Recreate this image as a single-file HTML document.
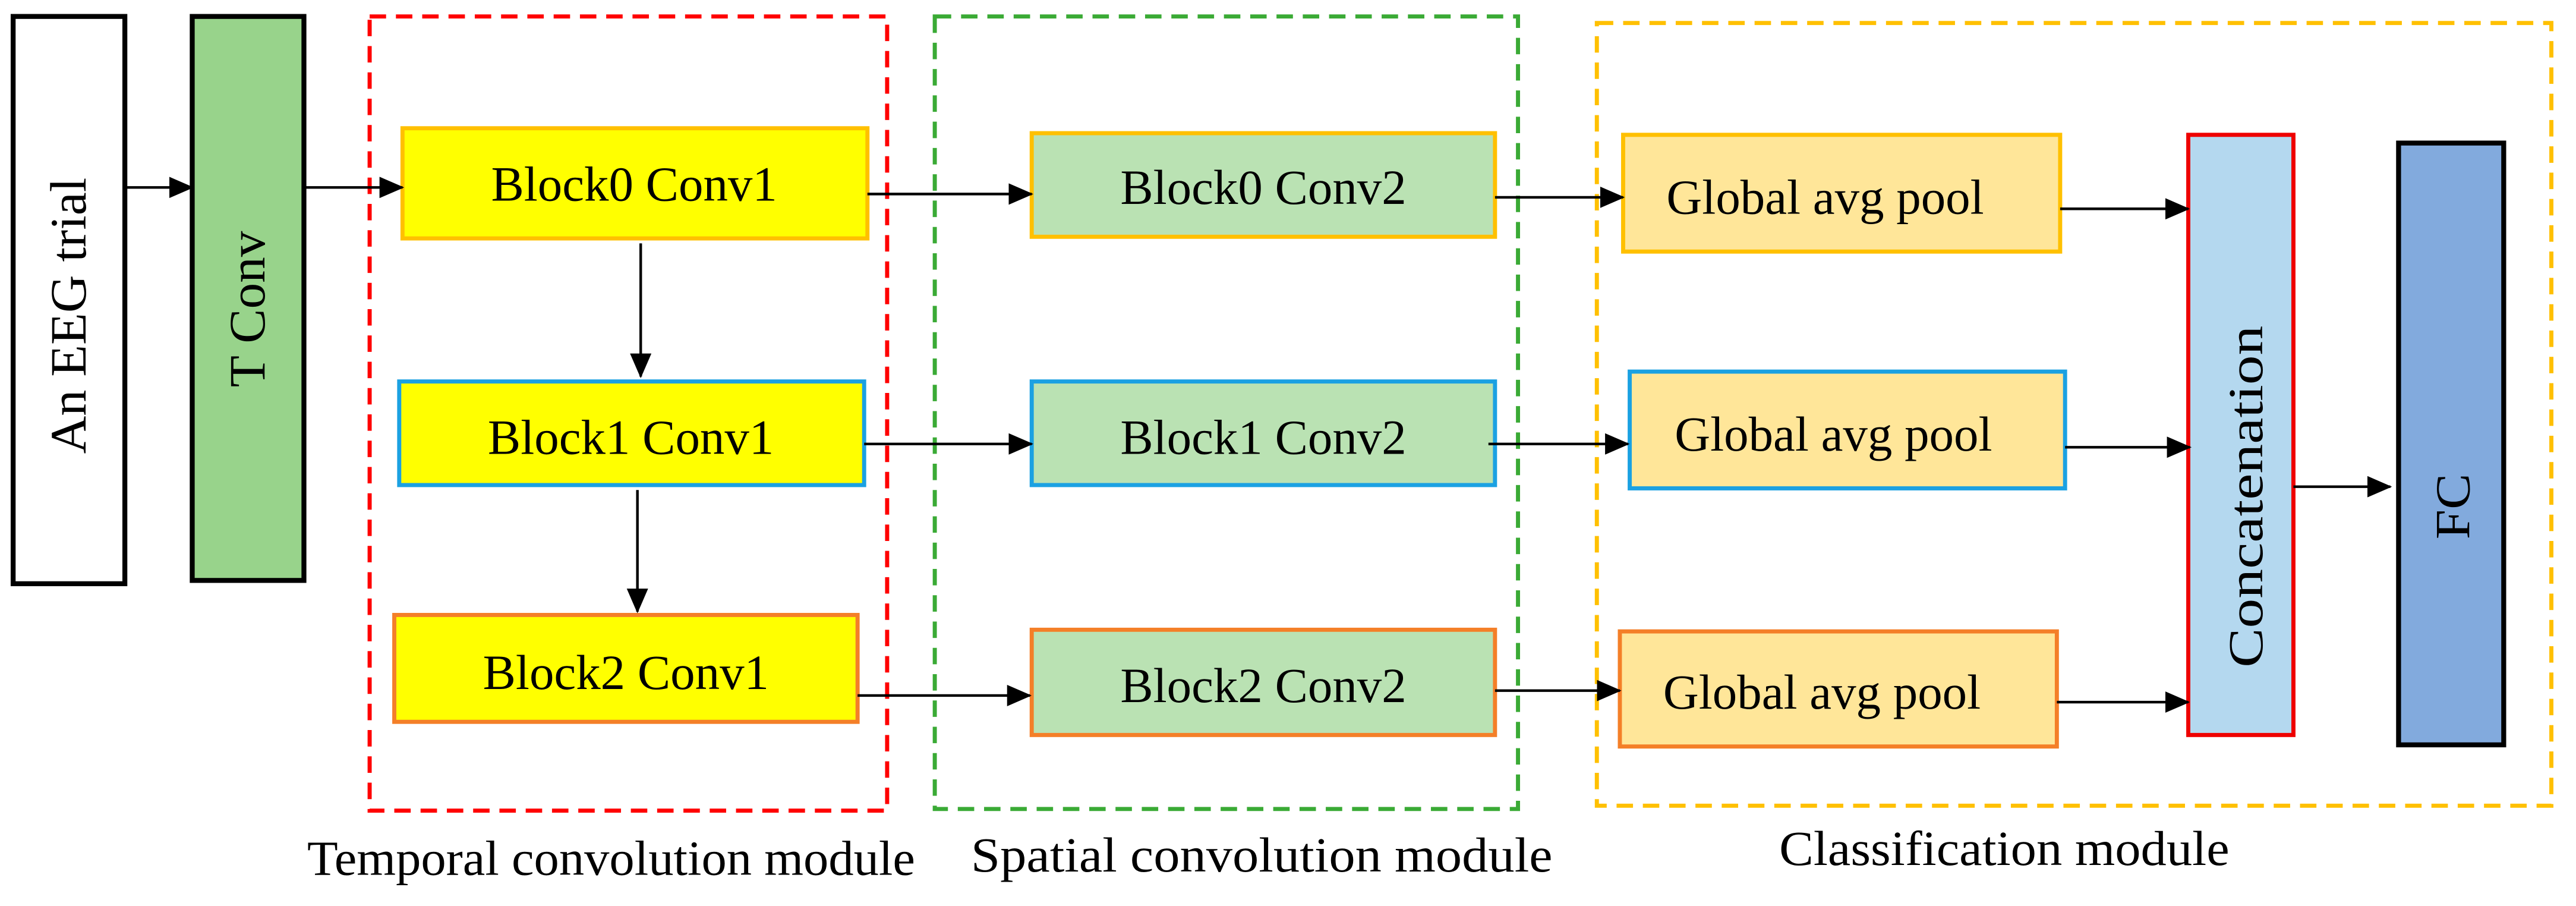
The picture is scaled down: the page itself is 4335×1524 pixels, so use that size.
<!DOCTYPE html>
<html><head><meta charset="utf-8"><style>
html,body{margin:0;padding:0;background:#fff}
svg{display:block}
text{font-family:"Liberation Serif",serif;fill:#000}
</style></head><body>
<svg width="4335" height="1524" viewBox="0 0 1568 551" preserveAspectRatio="none" xmlns="http://www.w3.org/2000/svg">
<defs>
<marker id="a" markerWidth="15" markerHeight="13" refX="14" refY="6.5" orient="auto" markerUnits="userSpaceOnUse" viewBox="0 0 15 13">
<path d="M0,0 L15,6.5 L0,13 z" fill="#000"/></marker>
</defs>
<g fill="none" stroke-width="2.5" stroke-dasharray="10,6">
<rect x="225" y="10" width="315" height="483" stroke="#f00"/>
<rect x="569" y="10" width="355" height="482" stroke="#3aaa35"/>
<rect x="972" y="14" width="581" height="476" stroke="#ffc000"/>
</g>
<rect x="8" y="10" width="68" height="345" fill="#fff" stroke="#000" stroke-width="3"/>
<rect x="117" y="10" width="68" height="343" fill="#98d38b" stroke="#000" stroke-width="3"/>
<text transform="translate(52,192) rotate(-90)" text-anchor="middle" font-size="31" textLength="168" lengthAdjust="spacingAndGlyphs">An EEG trial</text>
<text transform="translate(161,188) rotate(-90)" text-anchor="middle" font-size="31" textLength="95" lengthAdjust="spacingAndGlyphs">T Conv</text>
<g stroke-width="2.5">
<rect x="245" y="78" width="283" height="67" fill="#ffff00" stroke="#ffc000"/>
<rect x="243" y="232" width="283" height="63" fill="#ffff00" stroke="#1ba1e2"/>
<rect x="240" y="374" width="282" height="65" fill="#ffff00" stroke="#f47f28"/>
<rect x="628" y="81" width="282" height="63" fill="#bae2b3" stroke="#ffc000"/>
<rect x="628" y="232" width="282" height="63" fill="#bae2b3" stroke="#1ba1e2"/>
<rect x="628" y="383" width="282" height="64" fill="#bae2b3" stroke="#f47f28"/>
<rect x="988" y="82" width="266" height="71" fill="#ffe699" stroke="#ffc000"/>
<rect x="992" y="226" width="265" height="71" fill="#ffe699" stroke="#1ba1e2"/>
<rect x="986" y="384" width="266" height="70" fill="#ffe699" stroke="#f47f28"/>
<rect x="1332" y="82" width="64" height="365" fill="#b4d8ef" stroke="#e00"/>
<rect x="1460" y="87" width="64" height="366" fill="#82aadd" stroke="#000" stroke-width="3"/>
</g>
<g font-size="30" text-anchor="middle">
<text x="386" y="122">Block0 Conv1</text>
<text x="384" y="276">Block1 Conv1</text>
<text x="381" y="419">Block2 Conv1</text>
<text x="769" y="124">Block0 Conv2</text>
<text x="769" y="276">Block1 Conv2</text>
<text x="769" y="427">Block2 Conv2</text>
<text x="1111" y="130">Global avg pool</text>
<text x="1116" y="274">Global avg pool</text>
<text x="1109" y="431">Global avg pool</text>
<text transform="translate(1377,302) rotate(-90)" textLength="208" lengthAdjust="spacingAndGlyphs">Concatenation</text>
<text transform="translate(1503,308) rotate(-90)" textLength="40" lengthAdjust="spacingAndGlyphs">FC</text>
<text x="372" y="532" textLength="370" lengthAdjust="spacingAndGlyphs">Temporal convolution module</text>
<text x="768" y="530" textLength="354" lengthAdjust="spacingAndGlyphs">Spatial convolution module</text>
<text x="1220" y="526" textLength="274" lengthAdjust="spacingAndGlyphs">Classification module</text>
</g>
<g stroke="#000" stroke-width="1.6" marker-end="url(#a)">
<line x1="76" y1="114" x2="117" y2="114"/>
<line x1="185" y1="114" x2="245" y2="114"/>
<line x1="390" y1="148" x2="390" y2="229"/>
<line x1="388" y1="298" x2="388" y2="372"/>
<line x1="528" y1="118" x2="628" y2="118"/>
<line x1="526" y1="270" x2="628" y2="270"/>
<line x1="522" y1="423" x2="627" y2="423"/>
<line x1="910" y1="120" x2="988" y2="120"/>
<line x1="906" y1="270" x2="991" y2="270"/>
<line x1="910" y1="420" x2="986" y2="420"/>
<line x1="1254" y1="127" x2="1332" y2="127"/>
<line x1="1257" y1="272" x2="1333" y2="272"/>
<line x1="1252" y1="427" x2="1332" y2="427"/>
<line x1="1396" y1="296" x2="1455" y2="296"/>
</g>
</svg>
</body></html>
